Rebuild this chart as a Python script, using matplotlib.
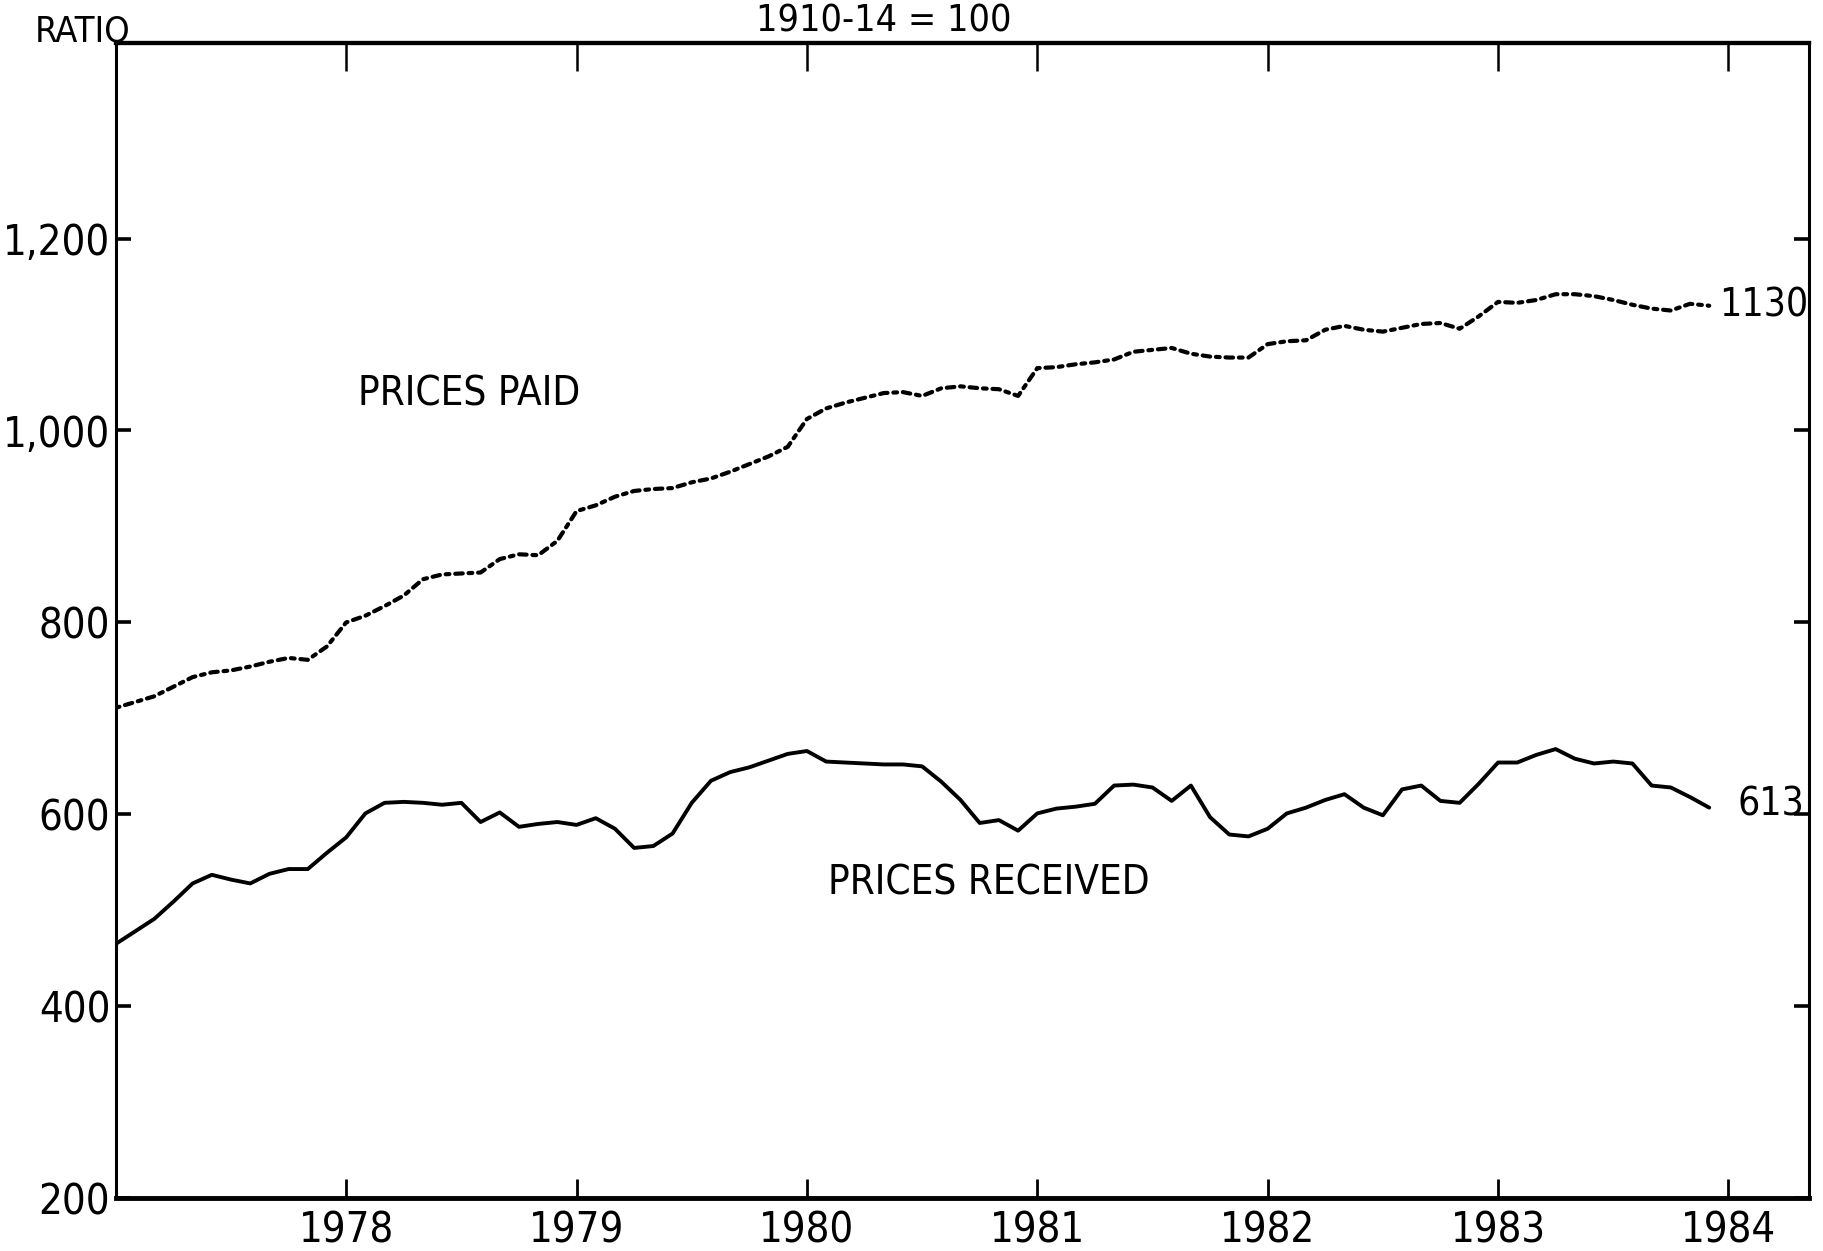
import numpy as np
import matplotlib
matplotlib.use('Agg')
import matplotlib.pyplot as plt
from matplotlib import font_manager

# Index of prices received and paid by farmers, monthly 1977-1983 (1910-14 = 100)
years = ['1978', '1979', '1980', '1981', '1982', '1983', '1984']
ytick_values = [200, 400, 600, 800, 1000, 1200]
ytick_labels = ['200', '400', '600', '800', '1,000', '1,200']

prices_paid = [
    711, 717, 723, 733, 743, 748, 750, 754, 759, 763, 761, 775,
    800, 807, 817, 828, 845, 850, 851, 852, 866, 871, 870, 885,
    916, 922, 931, 937, 939, 940, 946, 950, 957, 965, 973, 983,
    1012, 1023, 1029, 1034, 1039, 1040, 1036, 1044, 1046, 1044, 1043, 1036,
    1065, 1066, 1069, 1071, 1074, 1082, 1084, 1086, 1080, 1077, 1076, 1076,
    1090, 1093, 1094, 1105, 1109, 1105, 1103, 1107, 1111, 1112, 1106, 1119,
    1134, 1133, 1136, 1142, 1142, 1140, 1136, 1131, 1127, 1125, 1132, 1130,
]
prices_received = [
    465, 478, 491, 509, 528, 537, 532, 528, 538, 543, 543, 560,
    576, 601, 612, 613, 612, 610, 612, 592, 602, 587, 590, 592,
    589, 596, 585, 565, 567, 580, 612, 635, 644, 649, 656, 663,
    666, 655, 654, 653, 652, 652, 650, 634, 615, 591, 594, 583,
    601, 606, 608, 611, 630, 631, 628, 614, 630, 597, 579, 577,
    585, 601, 607, 615, 621, 607, 599, 626, 630, 614, 612, 632,
    654, 654, 662, 668, 658, 653, 655, 653, 630, 628, 618, 607,
]

# monthly positions starting January 1977
months = 1977 + np.arange(len(prices_paid)) / 12.0

# narrow font if we have one
names = {f.name for f in font_manager.fontManager.ttflist}
if 'Liberation Sans Narrow' in names:
    plt.rcParams['font.family'] = ['Liberation Sans Narrow', 'DejaVu Sans']
else:
    plt.rcParams['font.family'] = ['DejaVu Sans']
    plt.rcParams['font.stretch'] = 'condensed'

fig = plt.figure(figsize=(18.24, 12.51), dpi=100)
ax = fig.add_axes([0.0635, 0.0422, 0.9283, 0.9236])

ax.plot(months, prices_received, color='black', lw=2.8,
        solid_joinstyle='round', solid_capstyle='round')
ax.plot(months, prices_paid, color='black', lw=3.0,
        linestyle=(0, (0.9, 1.4, 1.8, 1.4)), dash_capstyle='round')

ax.set_xlim(1977.0, 1984.35)
ax.set_ylim(200, 1404)

# x ticks (bottom), inward
xt = [int(y) for y in years]
ax.set_xticks(xt)
ax.set_xticklabels(years)
ax.tick_params(axis='x', direction='in', length=14, width=2, labelsize=30, pad=8)

# y ticks on both sides, inward
ax.set_yticks(ytick_values)
ax.set_yticklabels(ytick_labels)
ax.tick_params(axis='y', direction='in', length=11, width=2.6, labelsize=30,
               pad=4, left=True, right=True)

# top ticks are longer
top = ax.secondary_xaxis('top')
top.set_xticks(xt)
top.set_xticklabels([])
top.tick_params(direction='in', length=20, width=1.8)
top.spines['top'].set_linewidth(3)

ax.spines['left'].set_linewidth(2.2)
ax.spines['right'].set_linewidth(2.2)
ax.spines['bottom'].set_linewidth(3.5)
ax.spines['top'].set_linewidth(3)

# annotations
ax.text(1978.05, 1038, 'PRICES PAID', fontsize=29, va='center', ha='left')
ax.text(1980.09, 528, 'PRICES RECEIVED', fontsize=29, va='center', ha='left')
ax.text(1983.96, prices_paid[-1], '1130', fontsize=28, va='center', ha='left')
ax.text(1984.33, 610, '613', fontsize=28, va='center', ha='right')

fig.text(35 / 1824, 1 - 42 / 1251, 'RATIO', fontsize=26, ha='left', va='baseline')
fig.text(884 / 1824, 1 - 31 / 1251, '1910-14 = 100', fontsize=27, ha='center', va='baseline')

fig.savefig('out.png', dpi=100, facecolor='white')
